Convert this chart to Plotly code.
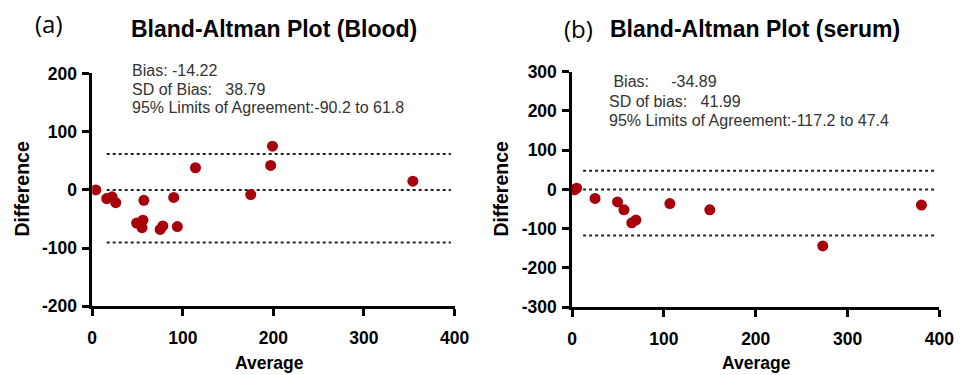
import plotly.graph_objects as go

# Panel (a) Blood
blood_avg = [4, 16, 22, 26, 49, 56, 55, 57, 75, 78, 90, 94, 114, 175, 197, 199, 354]
blood_diff = [0, -15, -12, -22, -57, -52, -65, -18, -68, -62, -13, -63, 38, -8, 42, 75, 15]
blood_lines = [61.8, 0, -90.2]
blood_text = ["Bias: -14.22", "SD of Bias:   38.79", "95% Limits of Agreement:-90.2 to 61.8"]

# Panel (b) Serum
serum_avg = [2.5, 5, 25, 49.5, 56.5, 65, 69.5, 106.5, 150, 273, 380.5]
serum_diff = [-1, 3, -23, -32, -52, -85, -78, -36, -52, -144, -40]
serum_lines = [47.4, 0, -117.2]
serum_text = [" Bias:     -34.89", "SD of bias:   41.99", "95% Limits of Agreement:-117.2 to 47.4"]

x_ticks = [0, 100, 200, 300, 400]
y_ticks_a = [-200, -100, 0, 100, 200]
y_ticks_b = [-300, -200, -100, 0, 100, 200, 300]

RED = "#a8000a"
FONT = "Arial, Liberation Sans, sans-serif"


def labels(vals):
    return [str(v) for v in vals]


fig = go.Figure()
fig.add_trace(go.Scatter(x=blood_avg, y=blood_diff, mode="markers",
                         marker=dict(size=11, color=RED), xaxis="x", yaxis="y", showlegend=False))
fig.add_trace(go.Scatter(x=serum_avg, y=serum_diff, mode="markers",
                         marker=dict(size=11, color=RED), xaxis="x2", yaxis="y2", showlegend=False))

for v in blood_lines:
    fig.add_shape(type="line", xref="x", yref="y", x0=16, x1=396, y0=v, y1=v,
                  line=dict(color="#222", width=2, dash="dot"), layer="below")
for v in serum_lines:
    fig.add_shape(type="line", xref="x2", yref="y2", x0=12, x1=396, y0=v, y1=v,
                  line=dict(color="#222", width=2, dash="dot"), layer="below")

axis_common = dict(showgrid=False, zeroline=False, showline=True, linecolor="black", linewidth=2.5,
                   ticks="outside", ticklen=7, tickwidth=2.5, tickcolor="black",
                   tickfont=dict(family=FONT, size=17.5, color="black", weight="bold"))

fig.update_layout(
    width=971, height=375, margin=dict(l=0, r=0, t=0, b=0),
    paper_bgcolor="white", plot_bgcolor="white",
    xaxis=dict(domain=[0.0917, 0.4727], range=[0, 400], tickvals=x_ticks, ticktext=labels(x_ticks),
               anchor="y", ticklabelstandoff=7, **axis_common),
    yaxis=dict(domain=[0.1653, 0.8213], range=[-200, 200], tickvals=y_ticks_a, ticktext=labels(y_ticks_a),
               anchor="x", ticklabelstandoff=2, **axis_common),
    xaxis2=dict(domain=[0.5963, 0.9825], range=[0, 400], tickvals=x_ticks, ticktext=labels(x_ticks),
                anchor="y2", ticklabelstandoff=7, **axis_common),
    yaxis2=dict(domain=[0.1627, 0.8267], range=[-300, 300], tickvals=y_ticks_b, ticktext=labels(y_ticks_b),
                anchor="x2", ticklabelstandoff=2, **axis_common),
)


def px(x, y):
    return x / 971, 1 - y / 375


def add(text, x, y, size, bold=False, family=FONT, color="black", xanchor="left", angle=0):
    xx, yy = px(x, y)
    fig.add_annotation(text=text, x=xx, y=yy, xref="paper", yref="paper", showarrow=False,
                       xanchor=xanchor, yanchor="middle", textangle=angle,
                       font=dict(family=family, size=size, color=color, weight="bold" if bold else "normal"))


add("(a)", 29, 14, 24, family="Open Sans, sans-serif")
add("Bland-Altman Plot (Blood)", 275, 20, 23, bold=True, xanchor="center")
add("(b)", 569, 20, 24, family="Open Sans, sans-serif")
add("Bland-Altman Plot (serum)", 766, 20, 23, bold=True, xanchor="center")

add("Difference", 17, 189, 19.5, bold=True, xanchor="center", angle=-90)
add("Difference", 506, 189, 19.5, bold=True, xanchor="center", angle=-90)
add("Average", 270, 373, 17.5, bold=True, xanchor="center")
add("Average", 767, 373, 17.5, bold=True, xanchor="center")

for i, t in enumerate(blood_text):
    add(t, 128, 64 + i * 19.5, 16, color="#333")
for i, t in enumerate(serum_text):
    add(t, 615, 76 + i * 20.5, 16, color="#333")

fig.write_html("out.html")
